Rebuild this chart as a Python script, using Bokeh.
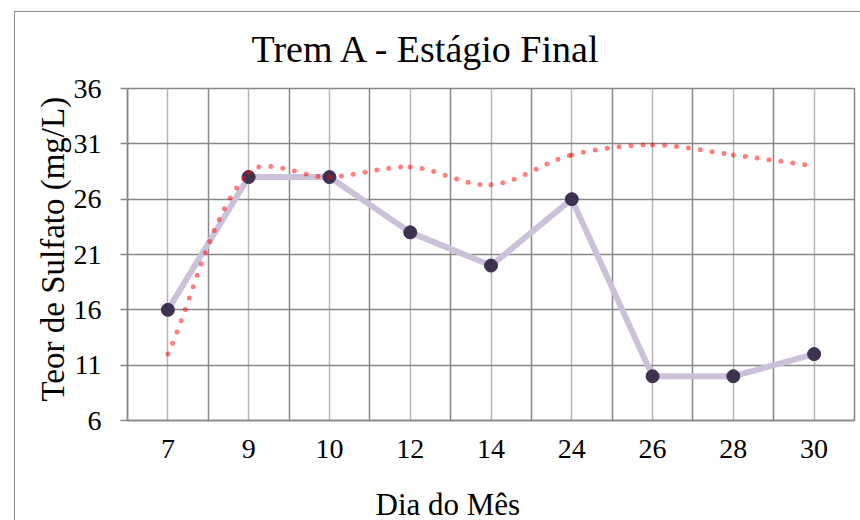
from bokeh.plotting import figure
from bokeh.models import Range1d, FixedTicker, Title, ColumnDataSource
from bokeh.embed import file_html
from bokeh.resources import INLINE

# --- data -------------------------------------------------------------
dias = ["7", "9", "10", "12", "14", "24", "26", "28", "30"]
sulfato = [16, 28, 28, 23, 20, 26, 10, 10, 12]
tendencia = [12, 28.4, 28, 28.9, 27.3, 30, 30.9, 30, 29]
y_ticks = [6, 11, 16, 21, 26, 31, 36]

titulo = "Trem A -  Estágio Final"
rotulo_x = "Dia  do Mês"
rotulo_y = "Teor de Sulfato (mg/L)"

# --- layout -----------------------------------------------------------
OX, OY = 14, 11                      # chart-area offset inside the page
BW = 1.5                             # chart-area border width
W, H = 860 - OX, 520 - OY
LEFT, RIGHT = 128 - OX - 2, 7
TOP, BOTTOM = 89 - OY - 2, 101
FONT = "Liberation Serif"
DARK = "#878787"
LIGHT = "#b5b5b5"
BORDER = f"{BW}px solid #8c8c8c"

n = len(dias)
xc = [i + 0.5 for i in range(n)]

p = figure(width=W, height=H, output_backend="svg", toolbar_location=None,
           x_range=Range1d(0, n), y_range=Range1d(6, 36),
           min_border_left=LEFT, min_border_right=RIGHT,
           min_border_top=TOP, min_border_bottom=BOTTOM,
           margin=(OY, 0, 0, OX),
           styles={"border-left": BORDER, "border-top": BORDER})
p.background_fill_color = "white"
p.border_fill_color = "white"
p.outline_line_color = DARK
p.outline_line_width = 1.5

# category boundaries as major grid, category centres as minor grid
p.xgrid.ticker = FixedTicker(ticks=list(range(n + 1)), minor_ticks=xc)
p.xgrid.grid_line_color = DARK
p.xgrid.grid_line_width = 1.5
p.xgrid.minor_grid_line_color = LIGHT
p.xgrid.minor_grid_line_width = 1.5
p.ygrid.grid_line_color = DARK
p.ygrid.grid_line_width = 1.5

# axes
p.xaxis.ticker = FixedTicker(ticks=xc)
p.xaxis.major_label_overrides = {x: d for x, d in zip(xc, dias)}
p.xaxis.major_tick_out = 0
p.xaxis.major_tick_in = 0
p.xaxis.minor_tick_line_color = None
p.xaxis.axis_line_color = DARK
p.xaxis.axis_line_width = 1.5
p.xaxis.major_label_standoff = 19

p.yaxis.ticker = FixedTicker(ticks=y_ticks)
p.yaxis.major_tick_out = 7
p.yaxis.major_tick_in = 0
p.yaxis.major_tick_line_color = DARK
p.yaxis.major_tick_line_width = 1.5
p.yaxis.minor_tick_line_color = None
p.yaxis.axis_line_color = DARK
p.yaxis.axis_line_width = 1.5
p.yaxis.major_label_standoff = 19

for ax in (p.xaxis, p.yaxis):
    ax.major_label_text_font = FONT
    ax.major_label_text_font_size = "28px"
    ax.major_label_text_color = "black"

# --- measured series --------------------------------------------------
p.line(xc, sulfato, line_color="#CCC1DA", line_width=6, line_join="round")
p.scatter(xc, sulfato, size=13, fill_color="#3F3151", line_color="#3F3151")

# --- smoothed dotted series (cubic Bézier segments) -------------------
sx = (W - LEFT - RIGHT) / n
sy = (H - TOP - BOTTOM) / 30.0

def seg_len(i):
    dx = (xc[i + 1] - xc[i]) * sx
    dy = (tendencia[i + 1] - tendencia[i]) * sy
    return (dx * dx + dy * dy) ** 0.5

lens = [seg_len(i) for i in range(n - 1)]

def tangent(i):
    a = max(i - 1, 0)
    b = min(i + 1, n - 1)
    return xc[b] - xc[a], tendencia[b] - tendencia[a]

x0, y0, x1, y1, cx0, cy0, cx1, cy1 = ([] for _ in range(8))
for i in range(n - 1):
    l_prev = lens[i - 1] if i > 0 else 0.0
    l_cur = lens[i]
    l_next = lens[i + 1] if i + 1 < n - 1 else 0.0
    tx, ty = tangent(i)
    k0 = l_cur / (l_prev + l_cur) / 3.0
    tx2, ty2 = tangent(i + 1)
    k1 = l_cur / (l_cur + l_next) / 3.0
    x0.append(xc[i]); y0.append(tendencia[i])
    x1.append(xc[i + 1]); y1.append(tendencia[i + 1])
    cx0.append(xc[i] + tx * k0); cy0.append(tendencia[i] + ty * k0)
    cx1.append(xc[i + 1] - tx2 * k1); cy1.append(tendencia[i + 1] - ty2 * k1)

src = ColumnDataSource(dict(x0=x0, y0=y0, x1=x1, y1=y1,
                            cx0=cx0, cy0=cy0, cx1=cx1, cy1=cy1))
p.bezier(x0="x0", y0="y0", x1="x1", y1="y1", cx0="cx0", cy0="cy0",
         cx1="cx1", cy1="cy1", source=src, line_color="red", line_alpha=0.5,
         line_width=5, line_dash="0 12", line_cap="round")

# --- titles (padding given as left, right, top, bottom) ---------------
p.add_layout(Title(text=titulo, align="left", offset=252 - 128,
                   text_font=FONT, text_font_size="38px",
                   text_font_style="normal", text_color="black",
                   standoff=0, padding=(0, 0, 0, 19)), "above")
p.add_layout(Title(text=rotulo_x, align="left", offset=376 - 128,
                   text_font=FONT, text_font_size="31px",
                   text_font_style="normal", text_color="black",
                   standoff=0, padding=(0, 0, 24, 0)), "below")
p.add_layout(Title(text=rotulo_y, align="left", offset=19,
                   text_font=FONT, text_font_size="33px",
                   text_font_style="normal", text_color="black",
                   standoff=0), "left")

open("out.html", "w").write(file_html(p, INLINE))
